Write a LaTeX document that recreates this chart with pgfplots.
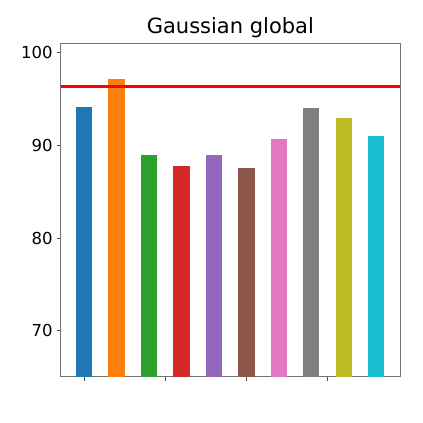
\documentclass[border=0pt]{standalone}
\usepackage{fontspec}
\setmainfont{DejaVu Sans}
\usepackage{pgfplots}
\pgfplotsset{compat=1.18}

\definecolor{c0}{HTML}{1F77B4}
\definecolor{c1}{HTML}{FF7F0E}
\definecolor{c2}{HTML}{2CA02C}
\definecolor{c3}{HTML}{D62728}
\definecolor{c4}{HTML}{9467BD}
\definecolor{c5}{HTML}{8C564B}
\definecolor{c6}{HTML}{E377C2}
\definecolor{c7}{HTML}{7F7F7F}
\definecolor{c8}{HTML}{BCBD22}
\definecolor{c9}{HTML}{17BECF}

\begin{document}
\begin{tikzpicture}
\useasboundingbox (-60.7pt,-46.3pt) rectangle (362.3pt,376.7pt);
\begin{axis}[at={(0,0)},anchor=south west,scale only axis,
  width=339.3pt,height=333.4pt,
  xmin=-0.72,xmax=9.73,ymin=65.05,ymax=101.0,
  xtick={0,2.5,5,7.5},xticklabels={},
  ytick={70,80,90,100},
  xtick pos=left,ytick pos=left,
  tick align=outside,major tick length=4pt,
  tick style={black!70,line width=0.7pt},
  axis line style={black!55,line width=0.8pt},
  tick label style={font=\fontsize{16.5}{20}\selectfont},
  /pgf/number format/assume math mode=true,
  yticklabel style={xshift=-0.5pt},
  title={Gaussian global},
  title style={font=\fontsize{21}{25}\selectfont,yshift=-4pt},
  ybar,bar width=0.5,bar shift=0pt]
\addplot[fill=c0,draw=none] coordinates {(0,94.17)};
\addplot[fill=c1,draw=none] coordinates {(1,97.10)};
\addplot[fill=c2,draw=none] coordinates {(2,88.96)};
\addplot[fill=c3,draw=none] coordinates {(3,87.78)};
\addplot[fill=c4,draw=none] coordinates {(4,88.96)};
\addplot[fill=c5,draw=none] coordinates {(5,87.53)};
\addplot[fill=c6,draw=none] coordinates {(6,90.70)};
\addplot[fill=c7,draw=none] coordinates {(7,94.07)};
\addplot[fill=c8,draw=none] coordinates {(8,92.96)};
\addplot[fill=c9,draw=none] coordinates {(9,90.98)};
\addplot[sharp plot,red,line width=2.6pt] coordinates {(-0.72,96.37) (9.73,96.37)};
\end{axis}
\end{tikzpicture}
\end{document}
